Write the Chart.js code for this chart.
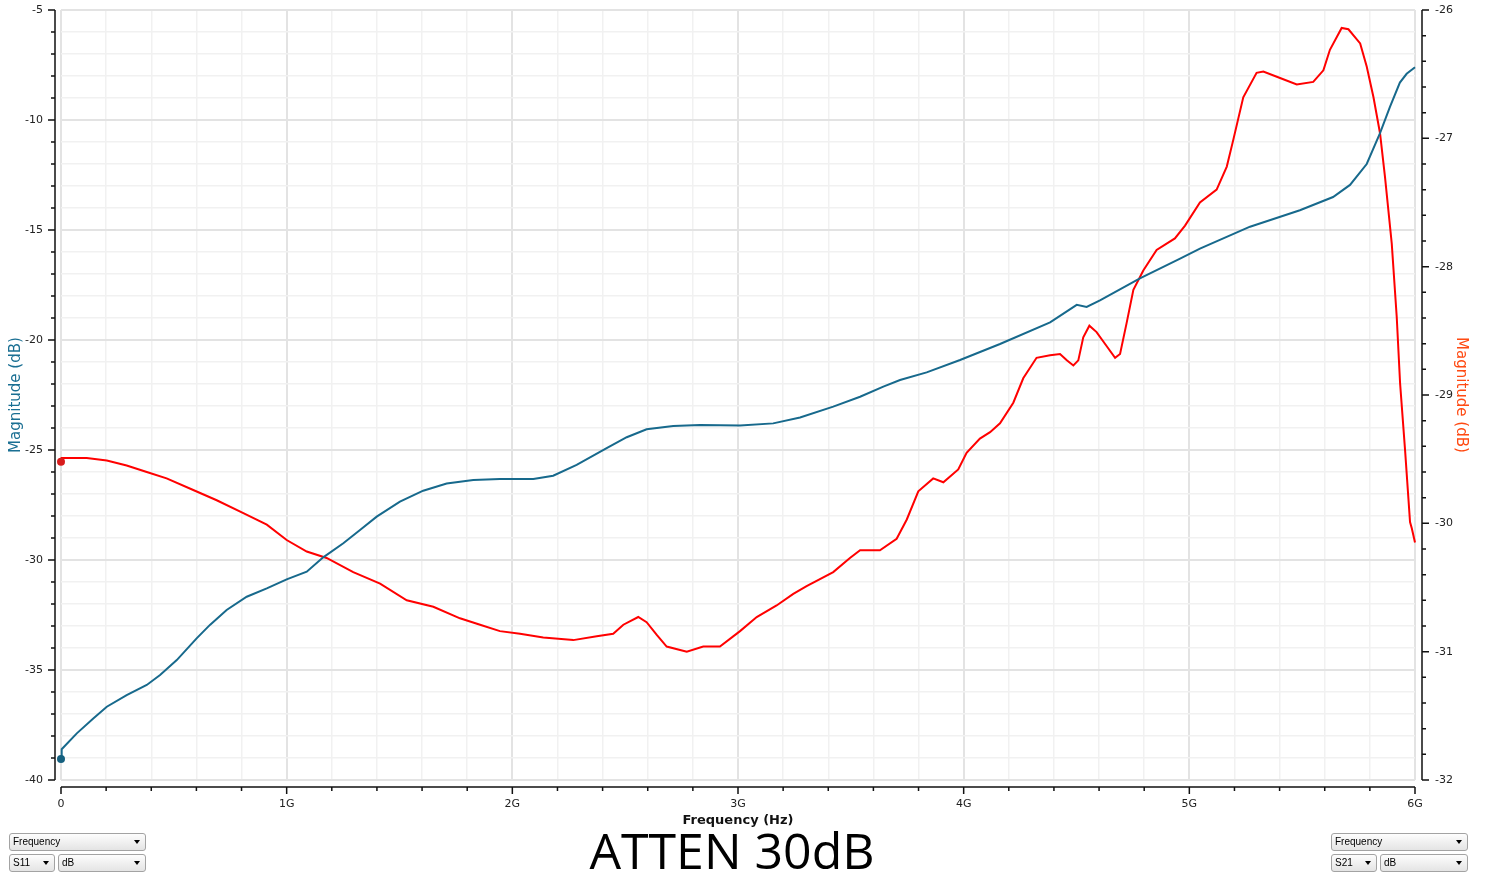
<!DOCTYPE html>
<html>
<head>
<meta charset="utf-8">
<script src="https://cdn.jsdelivr.net/npm/chart.js@4.4.1/dist/chart.umd.min.js"></script>
<style>
  body { margin: 0; background: #fff; }
  #wrap { position: relative; width: 1485px; height: 877px; overflow: hidden; }
  #plot { position: absolute; left: 0; top: 0; }
  .combo {
    position: absolute; box-sizing: border-box; height: 18px;
    border: 1px solid #a3a3a3; border-radius: 3px;
    background: linear-gradient(#fdfdfd, #e4e4e4);
    font: 10px "Liberation Sans", Arial, sans-serif; color: #000;
    line-height: 16px; padding-left: 3px;
  }
  .combo::after {
    content: ''; position: absolute; right: 5px; top: 6px;
    border-left: 3.5px solid transparent; border-right: 3.5px solid transparent;
    border-top: 4px solid #000;
  }
  #atten {
    position: absolute; left: 0; width: 1464px; top: 825px; text-align: center;
    font: 50px "Open Sans", sans-serif; line-height: 50px; color: #000;
  }
</style>
</head>
<body>
<div id="wrap">
  <canvas id="plot" width="1485" height="877"></canvas>
  <div class="combo" style="left:9px;top:833px;width:137px;">Frequency</div>
  <div class="combo" style="left:9px;top:854px;width:46px;">S11</div>
  <div class="combo" style="left:58px;top:854px;width:88px;">dB</div>
  <div class="combo" style="left:1331px;top:833px;width:137px;">Frequency</div>
  <div class="combo" style="left:1331px;top:854px;width:46px;">S21</div>
  <div class="combo" style="left:1380px;top:854px;width:88px;">dB</div>
  <div id="atten">ATTEN 30dB</div>
</div>
<script>
// frequencies in GHz, magnitudes in dB
const s11Freq = [0, 0.003, 0.07, 0.143, 0.203, 0.291, 0.38, 0.439, 0.513, 0.601, 0.66, 0.734, 0.823, 0.912,
  1.0, 1.089, 1.162, 1.251, 1.325, 1.399, 1.502, 1.605, 1.709, 1.827, 1.945, 2.093, 2.181, 2.285, 2.418,
  2.507, 2.595, 2.713, 2.832, 3.009, 3.156, 3.275, 3.422, 3.541, 3.644, 3.718, 3.836, 3.984, 4.161, 4.383,
  4.501, 4.545, 4.604, 4.781, 4.959, 5.047, 5.269, 5.49, 5.637, 5.712, 5.786, 5.845, 5.889, 5.933, 5.963, 6.0];
const s11Mag = [-39.05, -38.6, -37.88, -37.2, -36.67, -36.14, -35.68, -35.23, -34.55, -33.56, -32.95, -32.27, -31.67, -31.29,
  -30.88, -30.53, -29.88, -29.24, -28.64, -28.03, -27.35, -26.85, -26.52, -26.36, -26.32, -26.32, -26.17, -25.68, -24.92,
  -24.42, -24.06, -23.91, -23.86, -23.89, -23.79, -23.52, -23.03, -22.58, -22.12, -21.82, -21.47, -20.91, -20.18, -19.2,
  -18.4, -18.5, -18.2, -17.2, -16.3, -15.85, -14.85, -14.1, -13.5, -12.95, -12.0, -10.6, -9.4, -8.3, -7.9, -7.6];

const s21Freq = [0, 0.003, 0.114, 0.203, 0.291, 0.38, 0.468, 0.586, 0.69, 0.808, 0.912, 1.0, 1.089, 1.177, 1.295,
  1.414, 1.532, 1.65, 1.768, 1.857, 1.945, 2.034, 2.137, 2.27, 2.374, 2.447, 2.492, 2.558, 2.595, 2.64, 2.684,
  2.773, 2.846, 2.92, 3.009, 3.083, 3.171, 3.245, 3.304, 3.422, 3.496, 3.541, 3.629, 3.703, 3.748, 3.799, 3.865,
  3.91, 3.976, 4.013, 4.072, 4.117, 4.161, 4.22, 4.264, 4.323, 4.383, 4.427, 4.457, 4.486, 4.508, 4.53, 4.557,
  4.589, 4.634, 4.671, 4.693, 4.722, 4.752, 4.796, 4.855, 4.936, 4.981, 5.047, 5.121, 5.166, 5.195, 5.239, 5.298,
  5.328, 5.402, 5.476, 5.549, 5.594, 5.623, 5.675, 5.705, 5.757, 5.786, 5.816, 5.845, 5.867, 5.897, 5.919, 5.934,
  5.956, 5.978, 5.986, 6.0];
const s21Mag = [-29.52, -29.49, -29.49, -29.51, -29.55, -29.6, -29.65, -29.74, -29.82, -29.92, -30.01, -30.13, -30.22, -30.27, -30.38,
  -30.47, -30.6, -30.65, -30.74, -30.79, -30.84, -30.86, -30.89, -30.91, -30.88, -30.86, -30.79, -30.73, -30.77, -30.87, -30.96,
  -31.0, -30.96, -30.96, -30.84, -30.73, -30.64, -30.55, -30.49, -30.38, -30.27, -30.21, -30.21, -30.12, -29.97, -29.75, -29.65,
  -29.68, -29.58, -29.45, -29.34, -29.29, -29.22, -29.06, -28.87, -28.71, -28.69, -28.68, -28.73, -28.77, -28.73, -28.55, -28.46,
  -28.51, -28.62, -28.71, -28.68, -28.44, -28.18, -28.03, -27.87, -27.78, -27.68, -27.5, -27.4, -27.22, -27.01, -26.68, -26.49,
  -26.48, -26.53, -26.58, -26.56, -26.47, -26.31, -26.14, -26.15, -26.26, -26.44, -26.68, -26.96, -27.3, -27.82, -28.39, -28.91,
  -29.43, -29.99, -30.04, -30.15];

const xTicksLabelled = [0, 1, 2, 3, 4, 5, 6];

const isMult = (v, m) => Math.abs(v / m - Math.round(v / m)) < 1e-6;
const tickFont = { family: 'DejaVu Sans', size: 11 };

// axis lines sit a few pixels away from the plot, like the original tool
const axisMarks = {
  id: 'axisMarks',
  afterDraw(chart) {
    const { ctx, chartArea: a, scales } = chart;
    const lx = a.left - 6, rx = a.right + 7, by = a.bottom + 7;
    ctx.save();
    ctx.strokeStyle = '#111';
    ctx.lineWidth = 1.5;
    ctx.beginPath();
    ctx.moveTo(lx, a.top); ctx.lineTo(lx, a.bottom);
    scales.y.ticks.forEach(t => {
      const p = scales.y.getPixelForValue(t.value);
      ctx.moveTo(isMult(t.value, 5) ? lx - 7 : lx - 4, p); ctx.lineTo(lx, p);
    });
    ctx.moveTo(rx, a.top); ctx.lineTo(rx, a.bottom);
    scales.y2.ticks.forEach(t => {
      const p = scales.y2.getPixelForValue(t.value);
      ctx.moveTo(rx, p); ctx.lineTo(isMult(t.value, 1) ? rx + 7 : rx + 4, p);
    });
    ctx.moveTo(a.left, by); ctx.lineTo(a.right, by);
    scales.x.ticks.forEach(t => {
      const p = scales.x.getPixelForValue(t.value);
      ctx.moveTo(p, by); ctx.lineTo(p, isMult(t.value, 1) ? by + 7 : by + 4);
    });
    ctx.stroke();
    ctx.restore();
  }
};

const fitVertical = w => s => { s.width = w; s.paddingTop = 0; s.paddingBottom = 0; };

new Chart(document.getElementById('plot'), {
  type: 'line',
  data: {
    datasets: [
      {
        label: 'S11',
        data: s11Freq.map((f, i) => ({ x: f, y: s11Mag[i] })),
        yAxisID: 'y',
        borderColor: '#17698c',
        backgroundColor: '#15607f',
        borderWidth: 2,
        pointRadius: c => c.dataIndex === 0 ? 4 : 0,
        pointBorderWidth: 0,
        clip: 10,
        tension: 0
      },
      {
        label: 'S21',
        data: s21Freq.map((f, i) => ({ x: f, y: s21Mag[i] })),
        yAxisID: 'y2',
        borderColor: '#ff0000',
        backgroundColor: '#d81c1c',
        borderWidth: 2,
        pointRadius: c => c.dataIndex === 0 ? 4 : 0,
        pointBorderWidth: 0,
        clip: 10,
        tension: 0
      }
    ]
  },
  options: {
    responsive: false,
    animation: false,
    layout: { padding: { top: 10, bottom: 47, left: 0, right: 0 } },
    plugins: { legend: { display: false }, tooltip: { enabled: false } },
    scales: {
      x: {
        type: 'linear',
        min: 0,
        max: 6,
        afterFit: s => { s.height = 50; s.paddingLeft = 0; s.paddingRight = 0; },
        border: { display: false },
        grid: {
          drawTicks: false,
          color: c => isMult(c.tick.value, 1) ? '#e3e3e3' : '#f1f1f1',
          lineWidth: c => isMult(c.tick.value, 1) ? 2 : 1.5
        },
        ticks: {
          stepSize: 0.2,
          autoSkip: false,
          maxRotation: 0,
          padding: 18,
          color: '#222',
          font: tickFont,
          callback: v => {
            if (!isMult(v, 1)) return '';
            const g = Math.round(v);
            return xTicksLabelled.includes(g) ? (g === 0 ? '0' : g + 'G') : '';
          }
        },
        title: {
          display: true,
          text: 'Frequency (Hz)',
          color: '#111',
          font: { family: 'DejaVu Sans', size: 13, weight: 'bold' },
          padding: { top: 0, bottom: 2 }
        }
      },
      y: {
        position: 'left',
        min: -40,
        max: -5,
        afterFit: fitVertical(61),
        border: { display: false },
        grid: {
          drawTicks: false,
          color: c => isMult(c.tick.value, 5) ? '#e3e3e3' : '#f1f1f1',
          lineWidth: c => isMult(c.tick.value, 5) ? 2 : 1.5
        },
        ticks: {
          stepSize: 1,
          autoSkip: false,
          padding: 18,
          color: '#222',
          font: tickFont,
          callback: v => isMult(v, 5) ? String(Math.round(v)) : ''
        },
        title: {
          display: true,
          text: 'Magnitude (dB)',
          color: '#1a6f93',
          font: { family: 'DejaVu Sans', size: 15 },
          padding: { top: 7, bottom: 0 }
        }
      },
      y2: {
        position: 'right',
        min: -32,
        max: -26,
        afterFit: fitVertical(70),
        border: { display: false },
        grid: { drawOnChartArea: false, drawTicks: false },
        ticks: {
          stepSize: 0.2,
          autoSkip: false,
          padding: 20,
          color: '#222',
          font: tickFont,
          callback: v => isMult(v, 1) ? String(Math.round(v)) : ''
        },
        title: {
          display: true,
          text: 'Magnitude (dB)',
          color: '#ff4a12',
          font: { family: 'DejaVu Sans', size: 15 },
          padding: { top: 15, bottom: 0 }
        }
      }
    }
  },
  plugins: [axisMarks]
});
</script>
</body>
</html>
